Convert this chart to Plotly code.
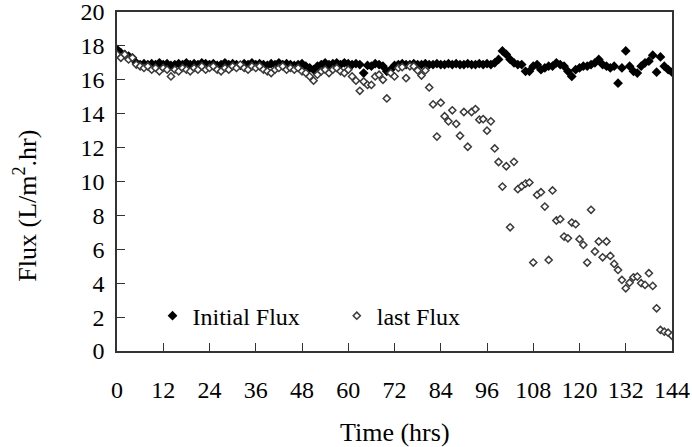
import plotly.graph_objects as go

hours = list(range(0, 145))

initial_flux = [
    17.8, 17.6, 17.5, 17.4, 17.3, 17.0, 16.9, 16.95, 16.9, 16.95,
    16.9, 17.0, 16.9, 16.95, 16.85, 16.9, 16.95, 16.9, 17.0, 16.9,
    16.95, 16.9, 17.0, 16.95, 16.9, 16.95, 16.85, 16.9, 17.0, 16.9,
    16.95, 16.9, 16.85, 16.95, 16.9, 17.0, 16.9, 16.95, 16.9, 16.85,
    16.95, 16.9, 17.0, 16.9, 16.95, 16.9, 16.85, 16.9, 16.95, 16.8,
    16.7, 16.6, 16.8, 16.9, 17.0, 16.9, 16.95, 17.0, 16.9, 17.0,
    16.95, 16.9, 16.95, 16.9, 16.4, 16.85, 16.8, 16.95, 16.9, 16.8,
    16.5, 16.6, 16.85, 16.9, 16.95, 16.9, 16.9, 16.95, 16.9, 16.9,
    16.95, 16.9, 16.9, 16.95, 16.9, 16.9, 16.95, 16.9, 16.95, 16.9,
    16.9, 16.95, 16.9, 16.9, 16.95, 16.9, 16.95, 16.9, 17.0, 17.2,
    17.7, 17.5, 17.2, 17.0, 16.9, 16.9, 16.5, 16.5, 16.8, 16.9,
    16.6, 16.7, 16.8, 16.8, 17.0, 16.9, 16.8, 16.5, 16.2, 16.6,
    16.7, 16.8, 16.8, 16.9, 17.0, 17.2, 16.9, 16.8, 16.7, 16.8,
    15.8, 16.7, 17.7, 16.8, 16.5, 16.4, 16.8, 17.0, 17.1, 17.45,
    16.45, 17.35, 16.8, 16.6, 16.45,
]

last_flux = [
    17.5, 17.3, 17.5, 17.2, 17.3, 16.9, 16.8, 16.7, 16.8, 16.6,
    16.7, 16.5, 16.7, 16.6, 16.2, 16.6, 16.5, 16.7, 16.6, 16.5,
    16.7, 16.6, 16.8, 16.6, 16.7, 16.8, 16.6, 16.5, 16.7, 16.6,
    16.8, 16.7, 16.9, 16.7, 16.6, 16.8, 16.7, 16.8, 16.6, 16.5,
    16.4, 16.6, 16.7, 16.8, 16.6, 16.7, 16.6, 16.7, 16.5, 16.4,
    16.2, 15.95, 16.3, 16.5, 16.6, 16.4, 16.6, 16.7, 16.5, 16.4,
    16.6, 16.2, 15.95, 15.35, 15.9, 15.7, 15.7, 16.2, 16.3, 16.0,
    14.9, 16.4, 16.2, 16.7, 16.75, 16.1, 16.8, 16.8, 16.55, 16.25,
    16.55, 15.55, 14.55, 12.65, 14.65, 13.85, 13.55, 14.2, 13.4, 12.7,
    14.1, 12.05, 14.1, 14.27, 13.65, 13.68, 13.0, 13.55, 11.95, 11.15,
    9.7, 10.9, 7.3, 11.16, 9.55, 9.72, 9.88, 9.94, 5.22, 9.21,
    9.37, 8.52, 5.37, 9.47, 7.7, 7.78, 6.75, 6.65, 7.58, 7.48,
    6.6, 6.26, 5.22, 8.33, 5.87, 6.46, 5.53, 6.46, 5.61, 5.14,
    4.78, 4.19, 3.7, 4.03, 4.35, 4.39, 4.0, 3.9, 4.59, 3.84,
    2.52, 1.24, 1.14, 1.08, 0.9,
]

x_ticks = list(range(0, 145, 12))
y_ticks = list(range(0, 21, 2))

FONT = "Liberation Serif, Times New Roman, serif"

fig = go.Figure()
fig.add_trace(go.Scatter(
    x=hours, y=initial_flux, mode="markers", name="Initial Flux",
    marker=dict(symbol="diamond", size=7.5, color="black", line=dict(width=0)),
    legend="legend", showlegend=True,
))
fig.add_trace(go.Scatter(
    x=hours, y=last_flux, mode="markers", name="last Flux",
    marker=dict(symbol="diamond", size=5.5, color="white",
                line=dict(width=1.5, color="#3a3a3a")),
    legend="legend2", showlegend=True,
))

axis_common = dict(
    showline=True, linecolor="#333333", linewidth=1.5, mirror=True,
    ticks="inside", ticklen=8, tickwidth=1, tickcolor="#333333",
    showgrid=False, zeroline=False, automargin=False,
    ticklabeloverflow="allow",
    tickfont=dict(family=FONT, size=24, color="black"),
)

fig.update_layout(
    width=692, height=447,
    margin=dict(l=117, r=20, t=12, b=96),
    paper_bgcolor="white", plot_bgcolor="white",
    font=dict(family=FONT, size=24, color="black"),
    showlegend=True,
    xaxis=dict(range=[0, 144], tickvals=x_ticks, ticklabelstandoff=16,
               **axis_common),
    yaxis=dict(range=[0, 20], tickvals=y_ticks, ticklabelstandoff=6,
               **axis_common),
    legend=dict(x=0.064, y=0.103, xanchor="left", yanchor="middle",
                bgcolor="rgba(0,0,0,0)", font=dict(family=FONT, size=24)),
    legend2=dict(x=0.396, y=0.103, xanchor="left", yanchor="middle",
                 bgcolor="rgba(0,0,0,0)", font=dict(family=FONT, size=24)),
    annotations=[
        dict(text="Time (hrs)", xref="paper", yref="paper", x=0.5, y=-0.24,
             xanchor="center", yanchor="middle", showarrow=False,
             font=dict(family=FONT, size=26, color="black")),
        dict(text="Flux (L/m<sup>2</sup>.hr)", xref="paper", yref="paper",
             x=-0.165, y=0.43, xanchor="center", yanchor="middle",
             textangle=-90, showarrow=False,
             font=dict(family=FONT, size=26, color="black")),
    ],
)

fig.write_html("out.html",
               config={"displayModeBar": False},
               post_script="document.body.style.margin='0';document.body.style.padding='0';")
